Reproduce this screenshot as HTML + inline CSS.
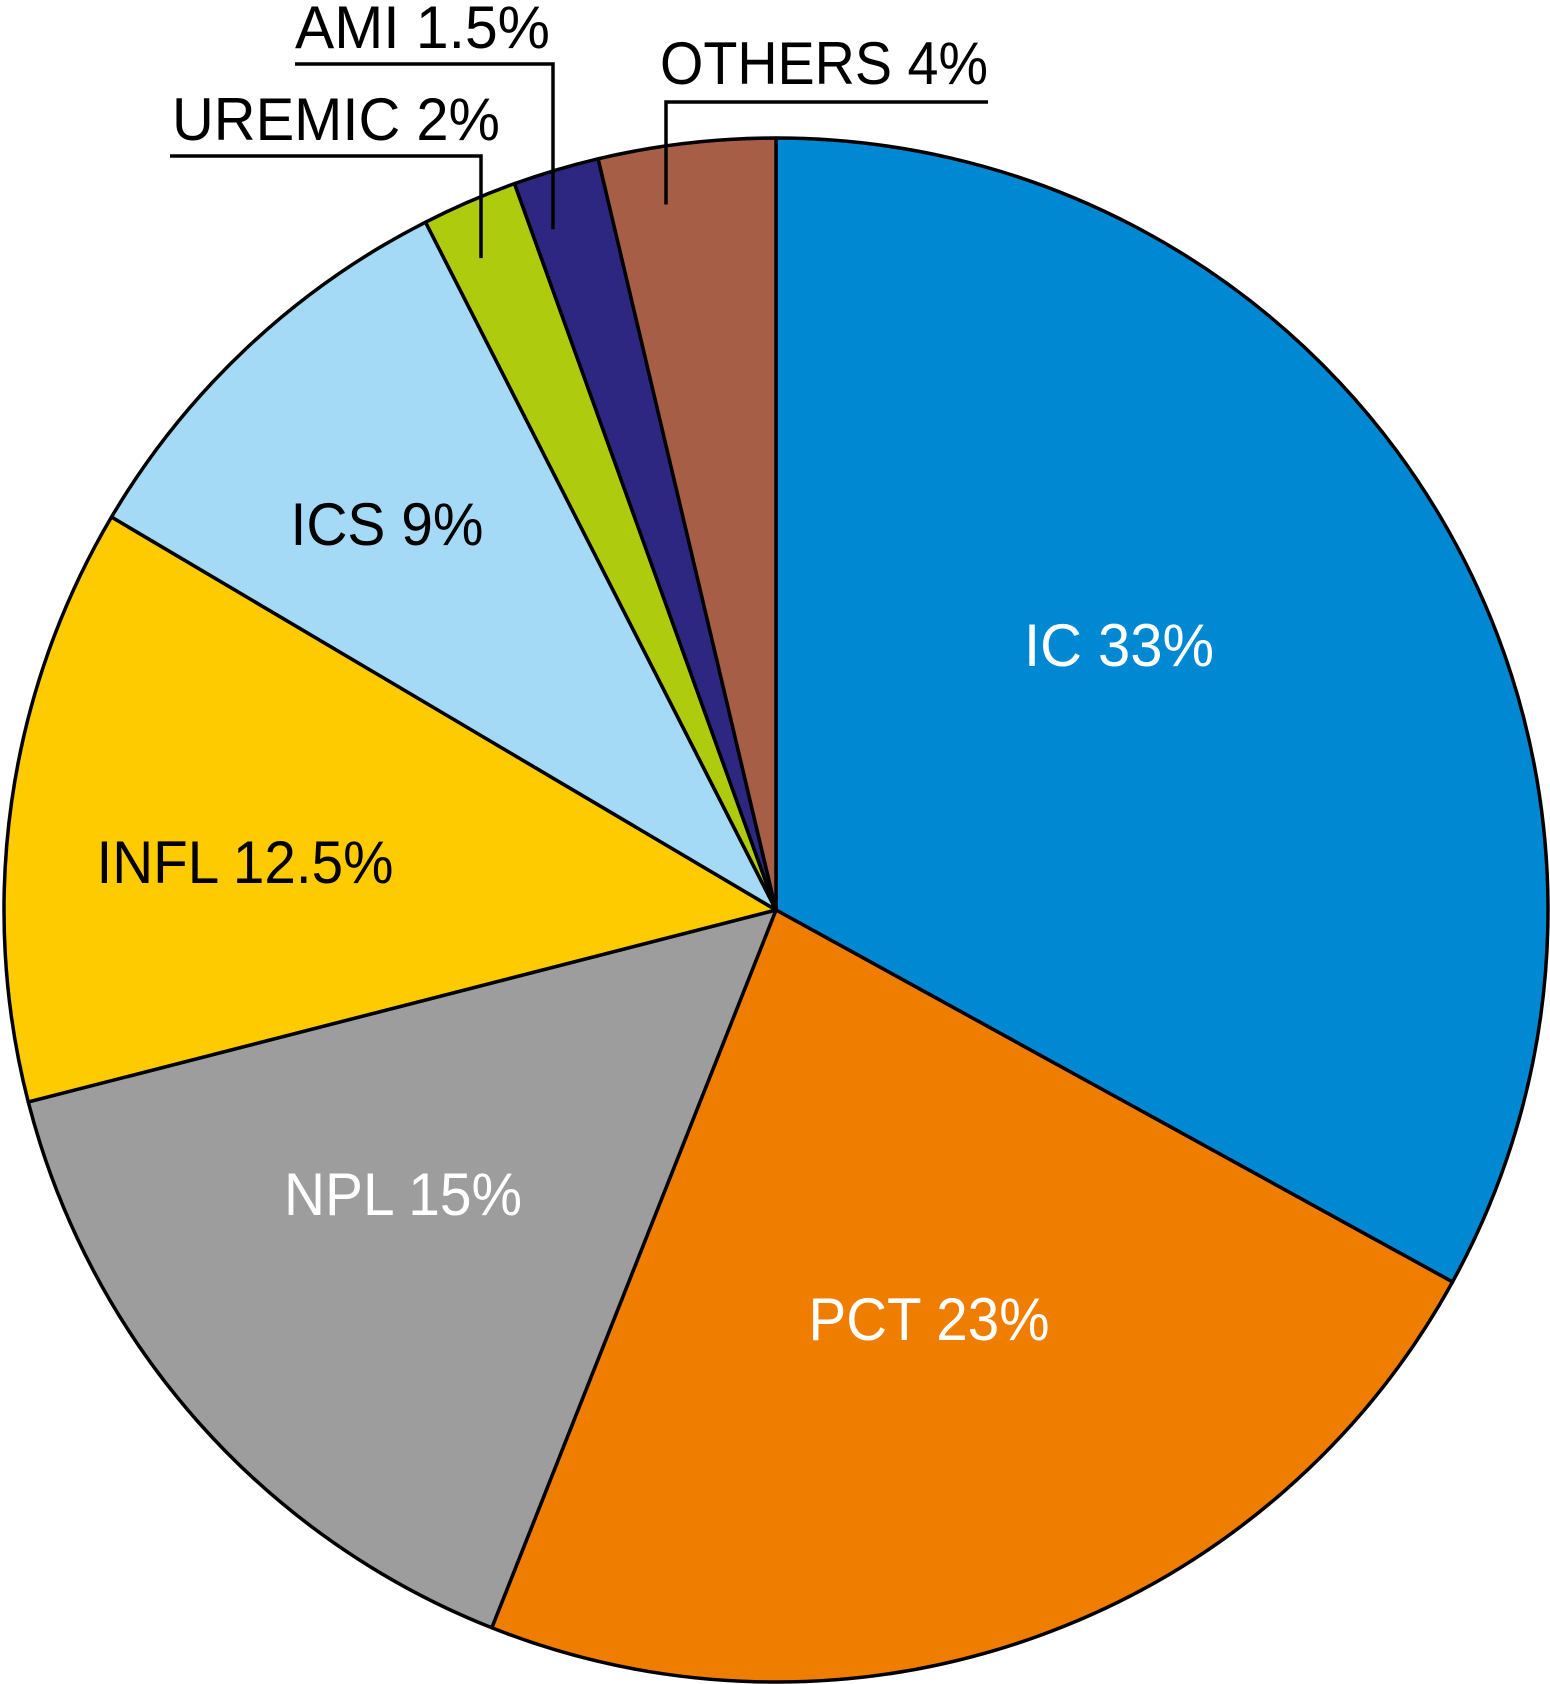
<!DOCTYPE html>
<html><head><meta charset="utf-8"><style>
html,body{margin:0;padding:0;background:#fff;}
svg{display:block;}
text{font-family:"Liberation Sans Narrow","Liberation Sans",sans-serif;font-size:60px;}
</style></head><body>
<svg id="chart" width="1550" height="1684" viewBox="0 0 1550 1684">
<g id="slices"></g>
<g id="labels"></g>
</svg>
<script>
const categories = ["IC","PCT","NPL","INFL","ICS","UREMIC","AMI","OTHERS"];
const values = [33,23,15,12.5,9,2,1.8,3.7];
const labelTexts = ["IC 33%","PCT 23%","NPL 15%","INFL 12.5%","ICS 9%","UREMIC 2%","AMI 1.5%","OTHERS 4%"];
const colors = ["#0089d2","#ef7d00","#9d9d9d","#fecb00","#a4daf6","#aecb0e","#2e2782","#a65e46"];
const cx=776, cy=910, R=772;
const ns="http://www.w3.org/2000/svg";
const total=values.reduce((a,b)=>a+b,0);
function pt(frac,r){const a=frac*2*Math.PI;return [cx+r*Math.sin(a),cy-r*Math.cos(a)];}
const sg=document.getElementById('slices'), lg=document.getElementById('labels');
let cum=0;
const mids=[];
values.forEach((v,i)=>{
  const s=cum/total, e=(cum+v)/total; cum+=v;
  mids.push((s+e)/2);
  const p0=pt(s,R), p1=pt(e,R);
  const large=(e-s)>0.5?1:0;
  const path=document.createElementNS(ns,'path');
  path.setAttribute('d',`M${cx},${cy} L${p0[0]},${p0[1]} A${R},${R} 0 ${large} 1 ${p1[0]},${p1[1]} Z`);
  path.setAttribute('fill',colors[i]);
  path.setAttribute('stroke','#000');
  path.setAttribute('stroke-width','3.5');
  path.setAttribute('stroke-linejoin','round');
  
  
  sg.appendChild(path);
});
const inner={0:[1,"#fff",190],1:[1,"#fff",241],2:[1,"#fff",238],3:[1,"#000",297],4:[1,"#000",193]};
const innerPos={0:[1119,666],1:[929,1340],2:[403,1215],3:[245,883],4:[387,545]};
for(const k in innerPos){
  const i=+k;
  const t=document.createElementNS(ns,'text');
  t.setAttribute('x',innerPos[k][0]);t.setAttribute('y',innerPos[k][1]);
  t.setAttribute('text-anchor','middle');
  t.setAttribute('fill',inner[k][1]);
  t.setAttribute('textLength',inner[k][2]);
  t.setAttribute('lengthAdjust','spacingAndGlyphs');
  t.textContent=labelTexts[i];
  
  
  lg.appendChild(t);
}
const outer=[[5,172,140,328,156,170,481,481],[6,295,48,255,64,295,553,553],[7,660,84,328,102,666,988,666]];
outer.forEach(o=>{
  const i=o[0];
  const [vx,vy]=pt(mids[i],R*0.92);
  const t=document.createElementNS(ns,'text');
  t.setAttribute('x',o[1]);t.setAttribute('y',o[2]);
  t.setAttribute('fill','#000');
  t.setAttribute('textLength',o[3]);
  t.setAttribute('lengthAdjust','spacingAndGlyphs');
  t.textContent=labelTexts[i];
  
  
  lg.appendChild(t);
  const pl=document.createElementNS(ns,'polyline');
  pl.setAttribute('points',`${o[5]},${o[4]} ${o[6]},${o[4]} ${o[7]},${o[4]} ${o[7]},${vy}`);
  if(o[7]===o[5]) pl.setAttribute('points',`${o[6]},${o[4]} ${o[5]},${o[4]} ${o[5]},${vy}`);
  pl.setAttribute('fill','none');pl.setAttribute('stroke','#000');pl.setAttribute('stroke-width','3.5');
  
  
  lg.appendChild(pl);
});
</script>
</body></html>
